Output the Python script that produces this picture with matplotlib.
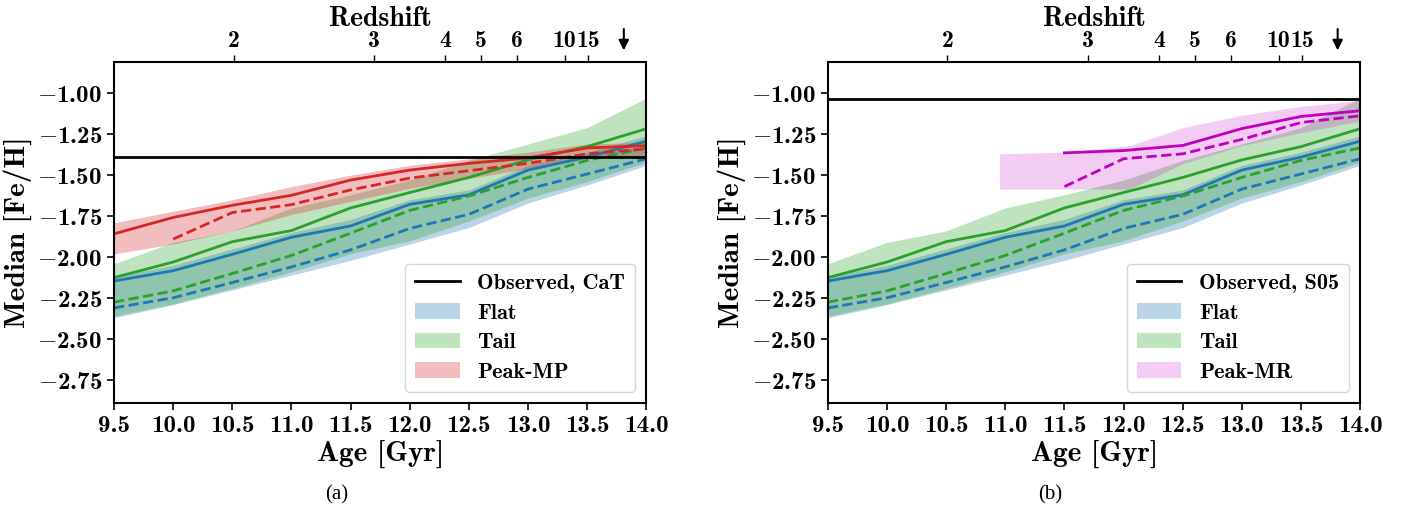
import numpy as np
import matplotlib
matplotlib.use('Agg')
from matplotlib import pyplot as plt
from matplotlib.patches import Patch
from matplotlib.lines import Line2D
from matplotlib.ticker import FuncFormatter

plt.rcParams['mathtext.fontset'] = 'cm'

ages = [9.5, 10.0, 10.5, 11.0, 11.5, 12.0, 12.5, 13.0, 13.5, 14.0]

# Flat (blue)
flat_solid = [-2.146, -2.083, -1.983, -1.879, -1.81, -1.678, -1.62, -1.469, -1.39, -1.293]
flat_dashed = [-2.31, -2.248, -2.155, -2.06, -1.956, -1.825, -1.739, -1.585, -1.493, -1.40]
flat_hi = [-2.12, -2.05, -1.95, -1.85, -1.77, -1.65, -1.59, -1.44, -1.36, -1.26]
flat_lo = [-2.37, -2.29, -2.20, -2.11, -2.02, -1.92, -1.82, -1.67, -1.56, -1.44]

# Tail (green)
tail_solid = [-2.125, -2.03, -1.906, -1.838, -1.70, -1.606, -1.514, -1.407, -1.326, -1.217]
tail_dashed = [-2.275, -2.206, -2.10, -1.99, -1.854, -1.715, -1.627, -1.514, -1.41, -1.334]
tail_hi = [-2.04, -1.91, -1.84, -1.70, -1.62, -1.53, -1.41, -1.31, -1.21, -1.03]
tail_lo = [-2.36, -2.285, -2.19, -2.09, -1.98, -1.90, -1.78, -1.64, -1.54, -1.42]

# Peak-MP (red)
pmp_solid = [-1.858, -1.758, -1.684, -1.623, -1.53, -1.469, -1.428, -1.395, -1.334, -1.32]
pmp_dashed = [np.nan, -1.89, -1.728, -1.68, -1.59, -1.518, -1.473, -1.428, -1.37, -1.34]
pmp_hi = [-1.79, -1.72, -1.65, -1.57, -1.50, -1.44, -1.40, -1.36, -1.31, -1.30]
pmp_lo = [-1.98, -1.92, -1.84, -1.74, -1.66, -1.58, -1.52, -1.46, -1.40, -1.38]

# Peak-MR (magenta)
pmr_ages = [11.5, 12.0, 12.5, 13.0, 13.5, 14.0]
pmr_solid = [-1.364, -1.35, -1.319, -1.216, -1.142, -1.107]
pmr_dashed = [-1.57, -1.40, -1.37, -1.282, -1.179, -1.138]
pmr_band_ages = [10.95, 11.5, 12.05, 12.5, 13.0, 13.5, 14.0]
pmr_hi = [-1.37, -1.36, -1.32, -1.21, -1.135, -1.08, -1.045]
pmr_lo = [-1.585, -1.585, -1.585, -1.43, -1.32, -1.24, -1.17]

obs_cat = -1.39
obs_s05 = -1.035

redshift_labels = ['2', '3', '4', '5', '6', '10', '15']
redshift_ages = [10.51, 11.70, 12.30, 12.60, 12.91, 13.31, 13.51]
bigbang_age = 13.81

blue, green, red, mag = '#1f77b4', '#2ca02c', '#d62728', '#bf00bf'
bold = 'cmb10'

fig = plt.figure(figsize=(14.08, 5.17), dpi=100)
ax_a = fig.add_axes([0.081, 0.2205, 0.378, 0.6595])
ax_b = fig.add_axes([0.588, 0.2205, 0.378, 0.6595])


def fmt(ndec):
    def f(v, pos):
        s = f'{abs(v):.{ndec}f}'
        return (r'$-$' + s) if v < 0 else s
    return FuncFormatter(f)


def common(ax):
    ax.fill_between(ages, flat_lo, flat_hi, color=blue, alpha=0.3, lw=0)
    ax.fill_between(ages, tail_lo, tail_hi, color=green, alpha=0.3, lw=0)
    ax.plot(ages, flat_solid, color=blue, lw=2)
    ax.plot(ages, flat_dashed, color=blue, lw=2, ls='--')
    ax.plot(ages, tail_solid, color=green, lw=2)
    ax.plot(ages, tail_dashed, color=green, lw=2, ls='--')


def decorate(ax, obs_label, peak_label, peak_color, peak_alpha):
    ax.set_xlim(9.5, 14.0)
    ax.set_ylim(-2.89, -0.81)
    ax.set_xticks(np.arange(9.5, 14.01, 0.5))
    ax.set_yticks([-2.75, -2.5, -2.25, -2.0, -1.75, -1.5, -1.25, -1.0])
    ax.xaxis.set_major_formatter(fmt(1))
    ax.yaxis.set_major_formatter(fmt(2))
    ax.tick_params(labelsize=18, length=5, width=1.2, labelfontfamily=bold)
    for s in ax.spines.values():
        s.set_linewidth(1.5)
    ax.set_xlabel('Age [Gyr]', family=bold, fontsize=21, labelpad=2)
    ax.set_ylabel('Median [Fe/H]', family=bold, fontsize=21, labelpad=4)
    handles = [Line2D([], [], color='k', lw=2),
               Patch(color=blue, alpha=0.3, lw=0),
               Patch(color=green, alpha=0.3, lw=0),
               Patch(color=peak_color, alpha=peak_alpha, lw=0)]
    ax.legend(handles, [obs_label, 'Flat', 'Tail', peak_label], loc='lower right',
              prop={'family': bold, 'size': 16}, handlelength=2.0, labelspacing=0.45,
              borderpad=0.45, handletextpad=0.8, framealpha=0.8)

    top = ax.twiny()
    top.set_xlim(ax.get_xlim())
    top.set_xticks(redshift_ages)
    top.set_xticklabels(redshift_labels, family=bold, fontsize=17)
    top.tick_params(length=5, width=1.0, pad=2)
    top.set_xlabel('Redshift', family=bold, fontsize=20, labelpad=3)
    for s in top.spines.values():
        s.set_visible(False)
    ax.annotate('', xy=(bigbang_age, 1.026), xycoords=('data', 'axes fraction'),
                xytext=(bigbang_age, 1.105), textcoords=('data', 'axes fraction'),
                arrowprops=dict(arrowstyle='-|>', color='k', lw=1.5, mutation_scale=15),
                annotation_clip=False)


# (a)
common(ax_a)
ax_a.fill_between(ages, pmp_lo, pmp_hi, color=red, alpha=0.3, lw=0)
ax_a.plot(ages, pmp_solid, color=red, lw=2)
ax_a.plot(ages, pmp_dashed, color=red, lw=2, ls='--')
ax_a.axhline(obs_cat, color='k', lw=2)
decorate(ax_a, 'Observed, CaT', 'Peak-MP', red, 0.3)

# (b)
common(ax_b)
ax_b.fill_between(pmr_band_ages, pmr_lo, pmr_hi, color=mag, alpha=0.2, lw=0)
ax_b.plot(pmr_ages, pmr_solid, color=mag, lw=2)
ax_b.plot(pmr_ages, pmr_dashed, color=mag, lw=2, ls='--')
ax_b.axhline(obs_s05, color='k', lw=2)
decorate(ax_b, 'Observed, S05', 'Peak-MR', mag, 0.2)

fig.text(0.239, 0.043, '(a)', family='Liberation Serif', fontsize=15, ha='center', va='center')
fig.text(0.746, 0.043, '(b)', family='Liberation Serif', fontsize=15, ha='center', va='center')

fig.savefig('out.png', dpi=100)
